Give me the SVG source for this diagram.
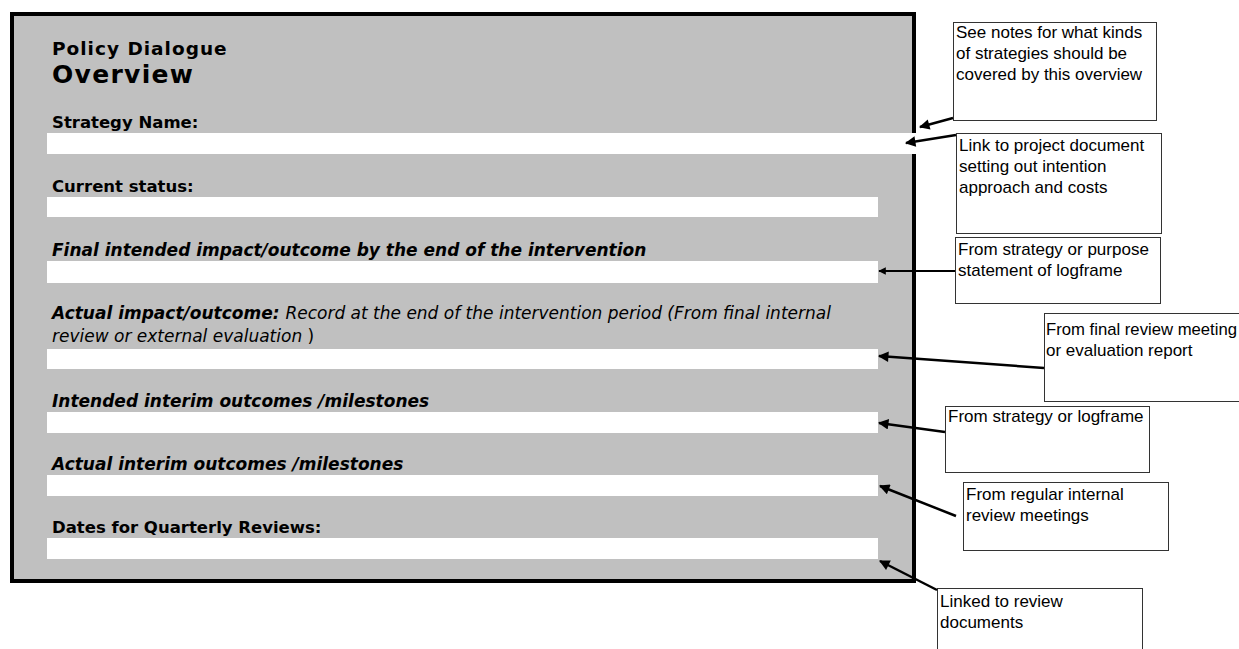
<svg xmlns="http://www.w3.org/2000/svg" width="1239" height="649" viewBox="0 0 1239 649">
<style>
.lbl{font-family:"DejaVu Sans",Verdana,sans-serif;font-size:16.5px;font-weight:bold;fill:#000}
.it{font-style:italic;font-size:17px}
.reg{font-weight:normal}
.bar{fill:#fff}
.box{fill:#fff;stroke:#333;stroke-width:1}
.note{font-family:"Liberation Sans",Arial,sans-serif;font-size:17px;fill:#000}
.arr{stroke:#000;stroke-width:2.5;fill:none;marker-end:url(#ah)}
</style>
<defs>
<marker id="ah" viewBox="0 0 10 10" refX="9" refY="5" markerWidth="5" markerHeight="4.2" markerUnits="strokeWidth" orient="auto">
<path d="M0,0 L10,5 L0,10 z" fill="#000"/>
</marker>
</defs>
<rect width="1239" height="649" fill="#fff"/>
<g id="panel">
<rect x="12" y="14" width="902" height="567" fill="#c0c0c0" stroke="#000" stroke-width="4"/>
<text class="lbl" x="52" y="55" style="font-size:18.5px;letter-spacing:1px">Policy Dialogue</text>
<text class="lbl" x="52" y="83" style="font-size:25px;letter-spacing:1.3px">Overview</text>
<text class="lbl" x="52" y="128">Strategy Name:</text>
<rect class="bar" x="47" y="133" width="869" height="21"/>
<text class="lbl" x="52" y="192">Current status:</text>
<rect class="bar" x="47" y="197" width="831" height="20"/>
<text class="lbl it" x="52" y="256">Final intended impact/outcome by the end of the intervention</text>
<rect class="bar" x="47" y="261" width="831" height="22"/>
<text class="lbl it" x="52" y="319">Actual impact/outcome: <tspan class="reg">Record at the end of the intervention period (From final internal</tspan></text>
<text class="lbl it reg" x="52" y="342">review or external evaluation <tspan style="font-style:normal">)</tspan></text>
<rect class="bar" x="47" y="349" width="831" height="20"/>
<text class="lbl it" x="52" y="407">Intended interim outcomes /milestones</text>
<rect class="bar" x="47" y="412" width="831" height="21"/>
<text class="lbl it" x="52" y="470">Actual interim outcomes /milestones</text>
<rect class="bar" x="47" y="475" width="831" height="21"/>
<text class="lbl" x="52" y="533">Dates for Quarterly Reviews:</text>
<rect class="bar" x="47" y="538" width="831" height="21"/>
</g>
<g id="note1">
<rect class="box" x="953.5" y="22.5" width="203" height="98"/>
<text class="note" x="956" y="38">See notes for what kinds</text>
<text class="note" x="956" y="59">of strategies should be</text>
<text class="note" x="956" y="80">covered by this overview</text>
</g>
<g id="note2">
<rect class="box" x="956.5" y="133.5" width="205" height="100"/>
<text class="note" x="959" y="151">Link to project document</text>
<text class="note" x="959" y="172">setting out intention</text>
<text class="note" x="959" y="193">approach and costs</text>
</g>
<g id="note3">
<rect class="box" x="955.5" y="237.5" width="205" height="66"/>
<text class="note" x="958" y="255">From strategy or purpose</text>
<text class="note" x="958" y="276">statement of logframe</text>
</g>
<g id="note4">
<rect class="box" x="1044.5" y="313.5" width="205" height="88"/>
<text class="note" x="1046" y="335" textLength="191" lengthAdjust="spacingAndGlyphs">From final review meeting</text>
<text class="note" x="1046" y="356">or evaluation report</text>
</g>
<g id="note5">
<rect class="box" x="945.5" y="406.5" width="204" height="66"/>
<text class="note" x="948" y="422">From strategy or logframe</text>
</g>
<g id="note6">
<rect class="box" x="963.5" y="482.5" width="205" height="68"/>
<text class="note" x="966" y="500">From regular internal</text>
<text class="note" x="966" y="521">review meetings</text>
</g>
<g id="note7">
<rect class="box" x="937.5" y="588.5" width="205" height="70"/>
<text class="note" x="940" y="607">Linked to review</text>
<text class="note" x="940" y="628">documents</text>
</g>
<g id="connectors">
<line class="arr" x1="953" y1="118" x2="920" y2="127"/>
<line class="arr" x1="956" y1="135" x2="906" y2="143"/>
<line class="arr" x1="955" y1="271" x2="879" y2="271" style="stroke-width:1.8"/>
<line class="arr" x1="1044" y1="368" x2="879" y2="356"/>
<line class="arr" x1="945" y1="432" x2="879" y2="423"/>
<line class="arr" x1="956" y1="516" x2="880" y2="486"/>
<line class="arr" x1="937" y1="590" x2="880" y2="561"/>
</g>
</svg>
